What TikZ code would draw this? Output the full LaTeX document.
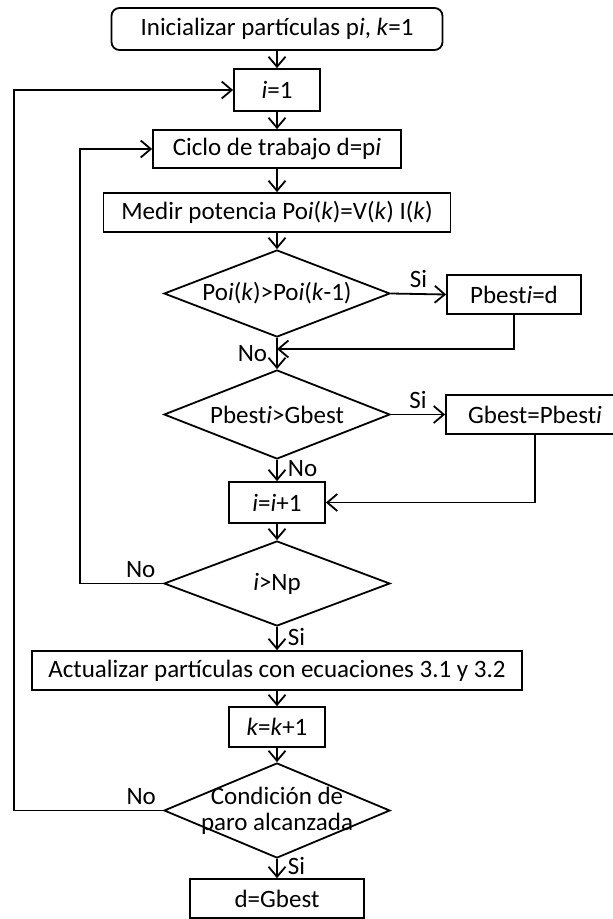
\documentclass[tikz,border=0pt]{standalone}
\usepackage{fontspec}
\setmainfont{Carlito}
\usetikzlibrary{shapes.geometric,arrows.meta}
\begin{document}
\begin{tikzpicture}[x=1pt,y=-1pt,
  font=\fontsize{25}{26}\selectfont,
  box/.style={draw, line width=1.8pt, inner sep=0pt, minimum height=39pt},
  dia/.style={draw, diamond, line width=1.8pt, inner sep=0pt, minimum width=226pt},
  dtext/.style={align=center, inner sep=0pt},
  arr/.style={line width=1.8pt, -{Straight Barb[length=10pt,width=17pt]}},
  lbl/.style={inner sep=0pt},
]
\useasboundingbox (0,0) rectangle (613,919);

% process boxes and decisions
\node[box, rounded corners=8pt, minimum width=331pt, minimum height=42pt] (init) at (277,29)
  {Inicializar partículas p\textit{i}, \textit{k}=1};
\node[box, minimum width=86pt, minimum height=42pt] (i1) at (277,90) {\textit{i}=1};
\node[box, minimum width=248pt, minimum height=38pt] (ciclo) at (277,149)
  {Ciclo de trabajo d=p\textit{i}};
\node[box, minimum width=347pt] (medir) at (277,212.5)
  {Medir potencia Po\textit{i}(\textit{k})=V(\textit{k}) I(\textit{k})};
\node[dia, minimum height=87pt,
  label={[dtext]center:Po\textit{i}(\textit{k})>Po\textit{i}(\textit{k}-1)}] (d1) at (277,293.5) {};
\node[box, minimum width=134pt] (pb) at (514,294.5) {Pbest\textit{i}=d};
\node[dia, minimum height=89pt,
  label={[dtext]center:Pbest\textit{i}>Gbest}] (d2) at (277,414.5) {};
\node[box, minimum width=178pt] (gb) at (535,414.5) {Gbest=Pbest\textit{i}};
\node[box, minimum width=96pt, minimum height=41pt] (ii) at (277,502.5) {\textit{i}=\textit{i}+1};
\node[dia, minimum height=85pt,
  label={[dtext]center:\textit{i}>Np}] (d3) at (277,583.5) {};
\node[box, minimum width=490pt] (act) at (277,670.5)
  {Actualizar partículas con ecuaciones 3.1 y 3.2};
\node[box, minimum width=96pt, minimum height=40pt] (kk) at (277,727) {\textit{k}=\textit{k}+1};
\node[dia, minimum height=95pt,
  label={[dtext]center:Condición de\\paro alcanzada}] (d4) at (277,810.5) {};
\node[box, minimum width=174pt] (dg) at (277,898.5) {d=Gbest};

% corner points of the return paths
\coordinate (j1) at (277,349);
\coordinate (c3) at (80,583.5);
\coordinate (c4) at (14,810.5);

% connectors
\draw[arr] (init) -- (i1);
\draw[arr] (i1) -- (ciclo);
\draw[arr] (ciclo) -- (medir);
\draw[arr] (medir) -- (d1);
\draw[arr] (d1.east) -- node[lbl, above=5pt] {Si} (pb.west);
\draw[arr] (d1.south) -- node[lbl, left=9pt] {No} (d2.north);
\draw[arr] (pb.south) |- (j1);
\draw[arr] (d2.east) -- node[lbl, above=5pt] {Si} (gb.west);
\draw[arr] (d2.south) -- node[lbl, right=10pt, pos=0.4] {No} (ii.north);
\draw[arr] (gb.south) |- (ii.east);
\draw[arr] (ii) -- (d3);
\draw[arr] (d3.west) -- node[lbl, above=5pt, pos=0.27] {No} (c3) |- (ciclo.west);
\draw[arr] (d3.south) -- node[lbl, right=10pt, pos=0.45] {Si} (act.north);
\draw[arr] (act) -- (kk);
\draw[arr] (kk) -- (d4);
\draw[arr] (d4.west) -- node[lbl, above=5pt, pos=0.147] {No} (c4) |- (i1.west);
\draw[arr] (d4.south) -- node[lbl, right=10pt, pos=0.35] {Si} (dg.north);
\end{tikzpicture}
\end{document}
